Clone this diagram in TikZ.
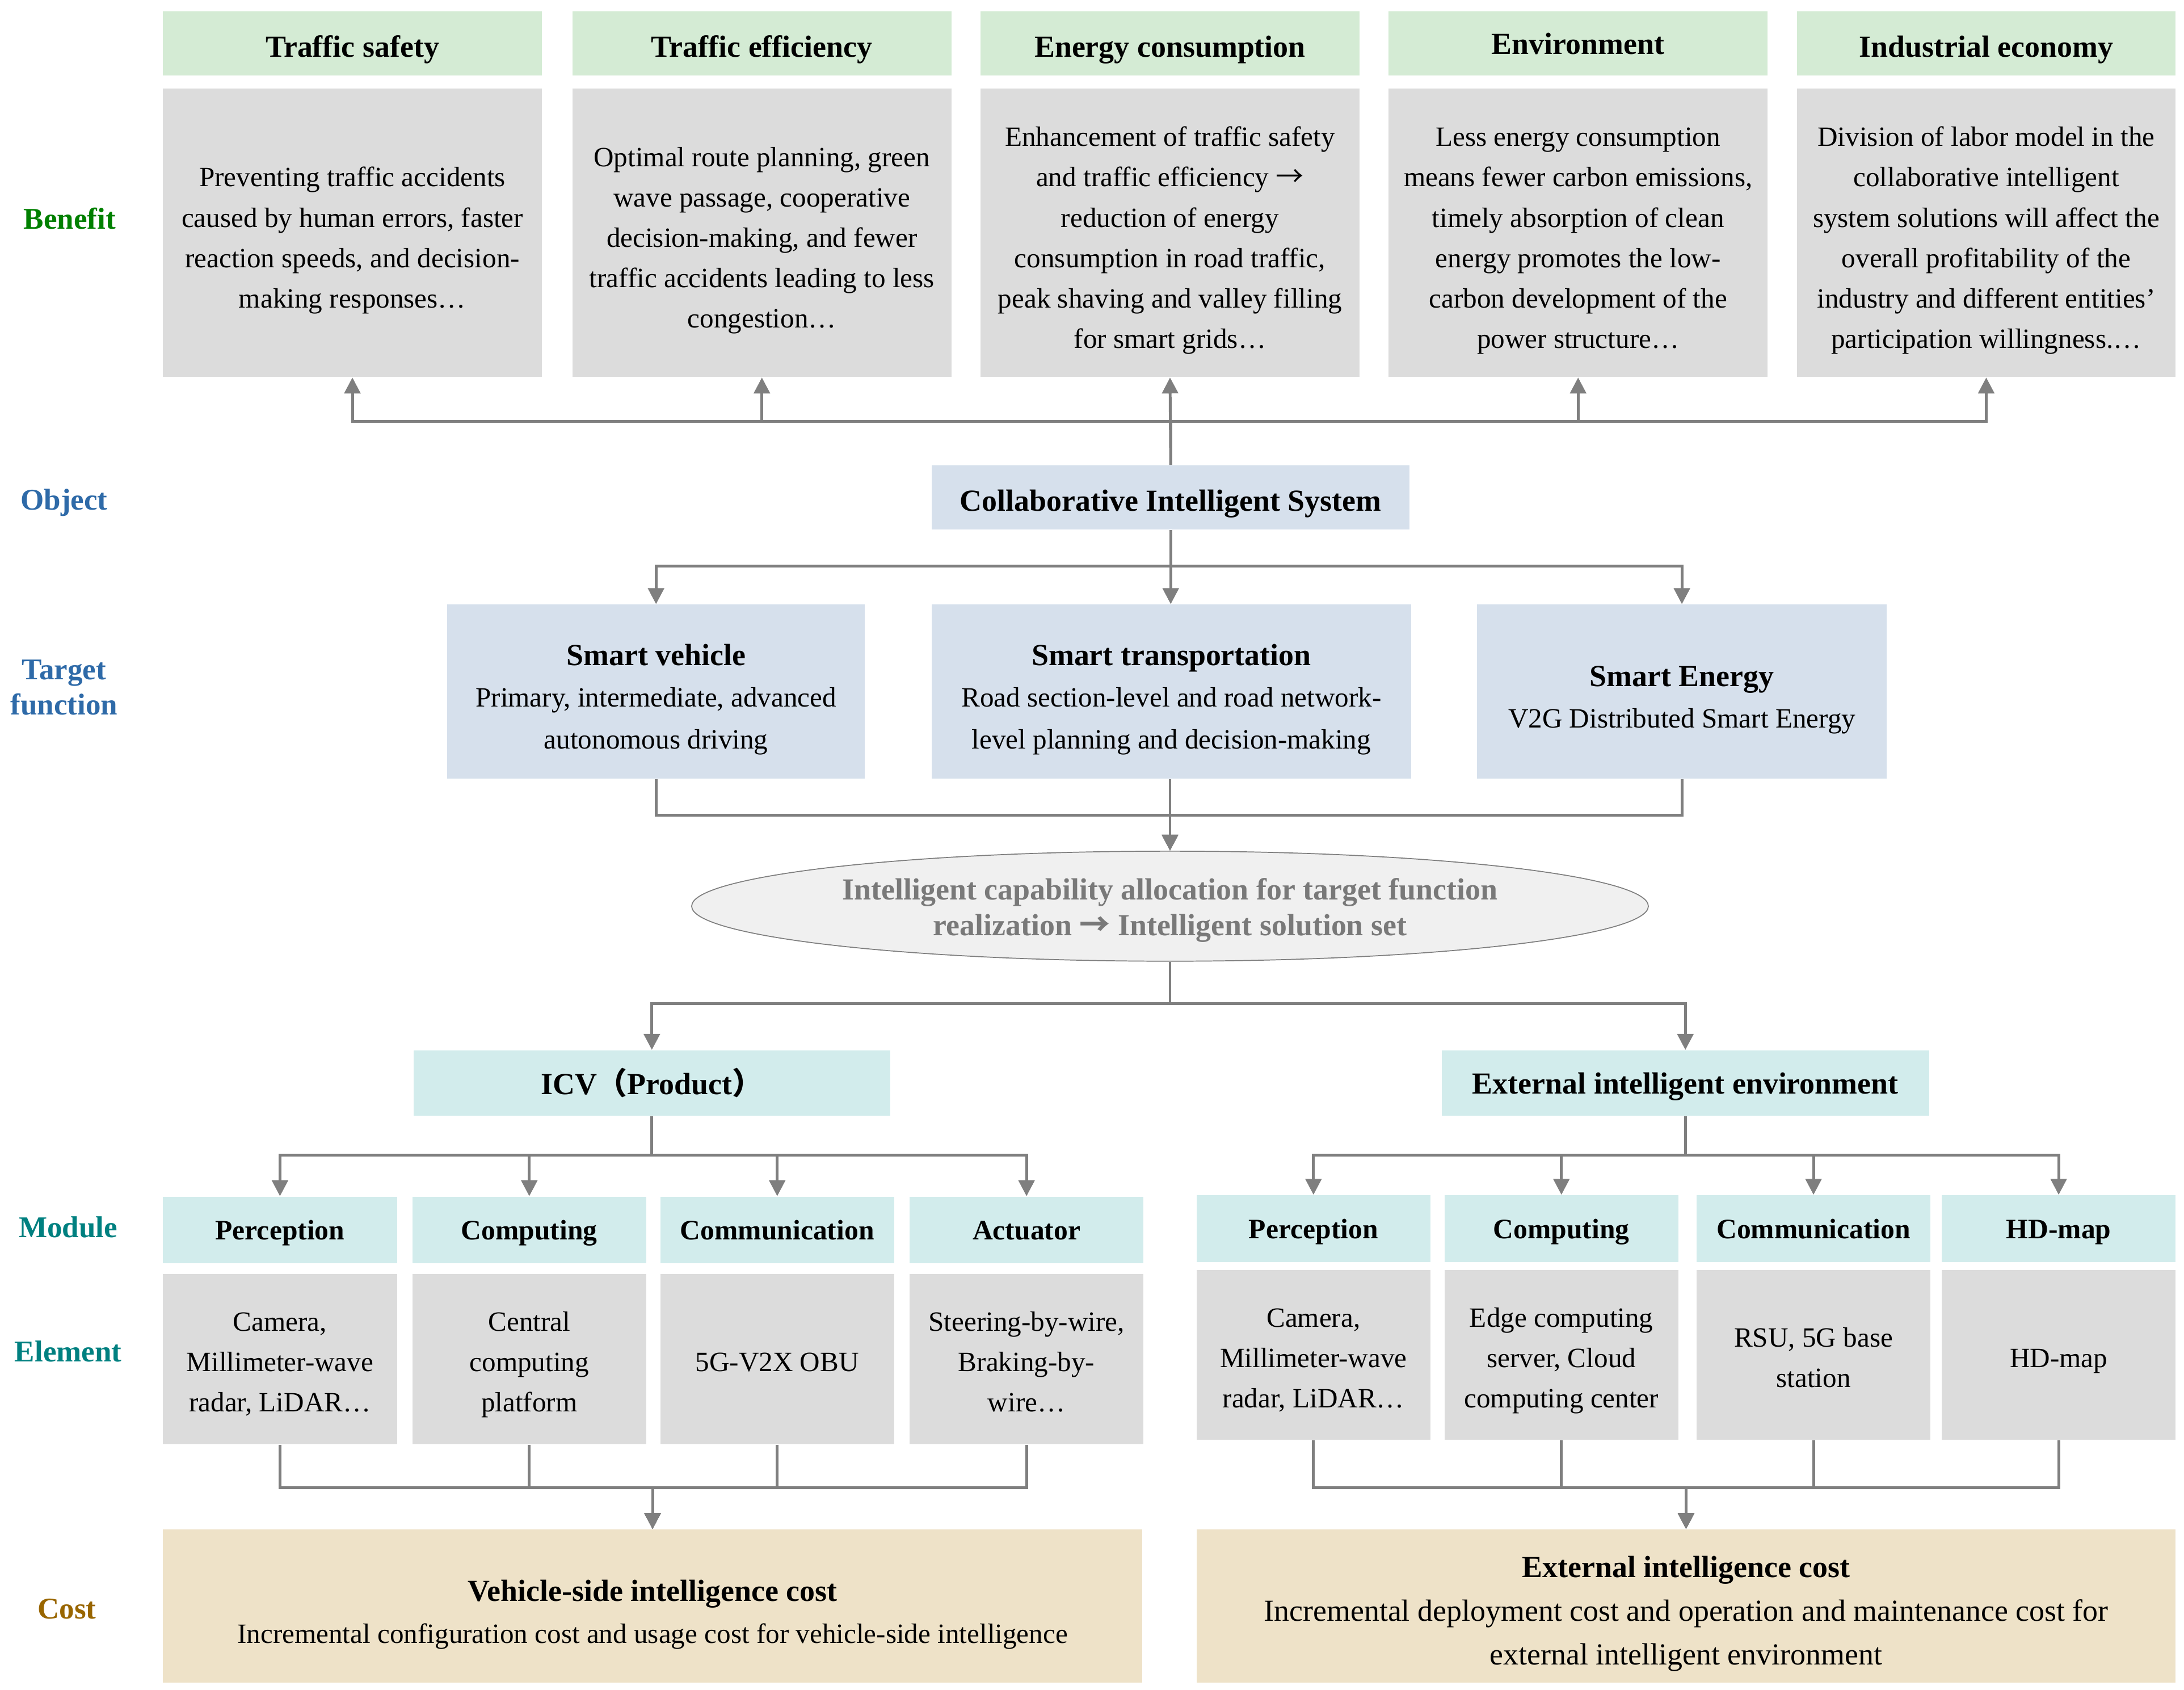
\documentclass[tikz,border=0pt]{standalone}
\usepackage{fontspec}
\setmainfont{Liberation Serif}
\newfontfamily\cjk{Noto Sans CJK SC}
\usepackage{xcolor}
\usepackage{tikz}
\usetikzlibrary{shapes.geometric,arrows.meta,positioning}
\definecolor{hdrgreen}{HTML}{D4EBD4}
\definecolor{boxgray}{HTML}{DCDCDC}
\definecolor{objblue}{HTML}{D6E0EC}
\definecolor{modteal}{HTML}{D2ECEC}
\definecolor{costtan}{HTML}{EEE2C8}
\definecolor{linegray}{HTML}{7F7F7F}
\definecolor{lblgreen}{HTML}{008000}
\definecolor{lblblue}{HTML}{2E6AA8}
\definecolor{lblteal}{HTML}{008080}
\definecolor{lblbrown}{HTML}{996600}
\newcommand\cistext[2][0.09cm]{\raisebox{-#1}[\height][\depth]{\begin{tabular}{@{}c@{}}#2\end{tabular}}}
\newcommand\cisbold[1]{\textbf{\fontsize{12.5}{17}\selectfont #1}}
\newcommand\cisto{{\cjk →}}
\tikzset{
  cisbase/.style={rectangle, inner sep=2pt, align=center, text=black},
  benhdr/.style={cisbase, fill=hdrgreen, minimum width=5.44cm, minimum height=0.92cm,
    font=\bfseries\fontsize{12.5}{15}\selectfont},
  bentxt/.style={cisbase, fill=boxgray, minimum width=5.44cm, minimum height=4.14cm,
    font=\fontsize{11.4}{16.5}\selectfont},
  objbox/.style={cisbase, fill=objblue, minimum height=0.92cm,
    font=\bfseries\fontsize{12.5}{15}\selectfont},
  tgtbox/.style={cisbase, fill=objblue, minimum height=2.5cm,
    font=\fontsize{11.4}{17}\selectfont},
  allocell/.style={ellipse, draw=linegray, fill=gray!12, inner sep=0pt,
    minimum width=13.74cm, minimum height=1.58cm, align=center, text=gray!95!black,
    font=\bfseries\fontsize{12.5}{14.8}\selectfont},
  grpbox/.style={cisbase, fill=modteal, minimum height=0.94cm,
    font=\bfseries\fontsize{12.5}{15}\selectfont},
  modhdr/.style={cisbase, fill=modteal, minimum width=3.36cm, minimum height=0.96cm,
    font=\bfseries\fontsize{11.5}{14}\selectfont},
  elemtxt/.style={cisbase, fill=boxgray, minimum width=3.36cm, minimum height=2.44cm,
    font=\fontsize{11.4}{16.5}\selectfont},
  costbox/.style={cisbase, fill=costtan, minimum width=14.06cm, minimum height=2.2cm,
    font=\fontsize{11.4}{17.2}\selectfont},
  rowlbl/.style={align=center, font=\bfseries\fontsize{12.3}{14.2}\selectfont},
  cislink/.style={draw=linegray, line width=1.15pt},
  cisarrow/.style={cislink, -{Triangle[length=6.5pt,width=6.5pt]}},
}
\begin{document}
\begin{tikzpicture}[x=0.02cm, y=-0.02cm]
  \fill[white] (0,0) rectangle (1568,1213);
  \useasboundingbox (0,0) rectangle (1568,1213);
  % row labels
  \node (lben) [rowlbl, text=lblgreen] at (50,157) {Benefit};
  \node (lobj) [rowlbl, text=lblblue] at (46,361) {Object};
  \node (ltgt) [rowlbl, text=lblblue] at (46,493.5) {Target\\function};
  \node (lmod) [rowlbl, text=lblteal] at (49,881) {Module};
  \node (lelm) [rowlbl, text=lblteal] at (49,970) {Element};
  \node (lcst) [rowlbl, text=lblbrown] at (48,1155) {Cost};
  % benefits
  \node (h1) [benhdr] at (253,31) {\cistext{Traffic safety}};
  \node (h2) [benhdr] at (547,31) {\cistext{Traffic efficiency}};
  \node (h3) [benhdr] at (840,31) {\cistext{Energy consumption}};
  \node (h4) [benhdr] at (1133,31) {\cistext[0.05cm]{Environment}};
  \node (h5) [benhdr] at (1426,31) {\cistext{Industrial economy}};
  \node (c1) [bentxt, below=0.18cm of h1] {\cistext{Preventing traffic accidents\\caused by human errors, faster\\reaction speeds, and decision-\\making responses…}};
  \node (c2) [bentxt, below=0.18cm of h2] {\cistext{Optimal route planning, green\\wave passage, cooperative\\decision-making, and fewer\\traffic accidents leading to less\\congestion…}};
  \node (c3) [bentxt, below=0.18cm of h3] {\cistext{Enhancement of traffic safety\\and traffic efficiency \cisto\\reduction of energy\\consumption in road traffic,\\peak shaving and valley filling\\for smart grids…}};
  \node (c4) [bentxt, below=0.18cm of h4] {\cistext{Less energy consumption\\means fewer carbon emissions,\\timely absorption of clean\\energy promotes the low-\\carbon development of the\\power structure…}};
  \node (c5) [bentxt, below=0.18cm of h5] {\cistext{Division of labor model in the\\collaborative intelligent\\system solutions will affect the\\overall profitability of the\\industry and different entities’\\participation willingness.…}};
  % object and target functions
  \node (cis) [objbox, minimum width=6.86cm] at (840.5,357) {\cistext{Collaborative Intelligent System}};
  \node (t1) [tgtbox, minimum width=6.0cm] at (471,496.5) {\cistext[0.1cm]{\cisbold{Smart vehicle}\\Primary, intermediate, advanced\\autonomous driving}};
  \node (t2) [tgtbox, minimum width=6.88cm] at (841,496.5) {\cistext[0.1cm]{\cisbold{Smart transportation}\\Road section-level and road network-\\level planning and decision-making}};
  \node (t3) [tgtbox, minimum width=5.88cm] at (1207.5,496.5) {\cistext[0.1cm]{\cisbold{Smart Energy}\\V2G Distributed Smart Energy}};
  \node (alloc) [allocell] at (840,650.5) {\cistext[0.06cm]{Intelligent capability allocation for target function\\realization \cisto\ Intelligent solution set}};
  % products and environment
  \node (icv) [grpbox, minimum width=6.84cm] at (468,777.5) {\cistext[0.05cm]{ICV{\cjk （}Product{\cjk ）}}};
  \node (ext) [grpbox, minimum width=7.0cm] at (1210,777.5) {\cistext[0.05cm]{External intelligent environment}};
  % vehicle modules
  \node (m1) [modhdr] at (201,883) {\cistext[0.04cm]{Perception}};
  \node (m2) [modhdr] at (380,883) {\cistext[0.04cm]{Computing}};
  \node (m3) [modhdr] at (558,883) {\cistext[0.04cm]{Communication}};
  \node (m4) [modhdr] at (737,883) {\cistext[0.04cm]{Actuator}};
  \node (e1) [elemtxt, below=0.14cm of m1] {\cistext[0.06cm]{Camera,\\Millimeter-wave\\radar, LiDAR…}};
  \node (e2) [elemtxt, below=0.14cm of m2] {\cistext[0.06cm]{Central\\computing\\platform}};
  \node (e3) [elemtxt, below=0.14cm of m3] {\cistext[0.06cm]{5G-V2X OBU}};
  \node (e4) [elemtxt, below=0.14cm of m4] {\cistext[0.06cm]{Steering-by-wire,\\Braking-by-\\wire…}};
  % environment modules
  \node (m5) [modhdr] at (943,882) {\cistext[0.04cm]{Perception}};
  \node (m6) [modhdr] at (1121,882) {\cistext[0.04cm]{Computing}};
  \node (m7) [modhdr] at (1302,882) {\cistext[0.04cm]{Communication}};
  \node (m8) [modhdr] at (1478,882) {\cistext[0.04cm]{HD-map}};
  \node (e5) [elemtxt, below=0.1cm of m5] {\cistext[0.06cm]{Camera,\\Millimeter-wave\\radar, LiDAR…}};
  \node (e6) [elemtxt, below=0.1cm of m6] {\cistext[0.06cm]{Edge computing\\server, Cloud\\computing center}};
  \node (e7) [elemtxt, below=0.1cm of m7] {\cistext[0.06cm]{RSU, 5G base\\station}};
  \node (e8) [elemtxt, below=0.1cm of m8] {\cistext[0.06cm]{HD-map}};
  % costs
  \node (vcost) [costbox] at (468.5,1153) {\cistext[0.11cm]{\cisbold{Vehicle-side intelligence cost}\\Incremental configuration cost and usage cost for vehicle-side intelligence}};
  \node (xcost) [costbox, font=\fontsize{12.5}{17.8}\selectfont] at (1210.5,1153) {\cistext[0.09cm]{\cisbold{External intelligence cost}\\Incremental deployment cost and operation and maintenance cost for\\external intelligent environment}};
  % connectors
  \draw[cisarrow] (cis.north) -- (c3.south);
  \draw[cisarrow] (cis.north) -- ++(0,-31) -| (c1.south); \draw[cisarrow] (cis.north) -- ++(0,-31) -| (c2.south);
  \draw[cisarrow] (cis.north) -- ++(0,-31) -| (c4.south); \draw[cisarrow] (cis.north) -- ++(0,-31) -| (c5.south);
  \draw[cisarrow] (cis.south) -- ++(0,26) -| (t1.north); \draw[cisarrow] (cis.south) -- (cis.south |- t2.north);
  \draw[cisarrow] (cis.south) -- ++(0,26) -| (t3.north);
  \draw[cisarrow] (t1.south) -- ++(0,26) -| (alloc.north); \draw[cisarrow] (t3.south) -- ++(0,26) -| (alloc.north);
  \draw[cisarrow] (t2.south -| alloc.north) -- (alloc.north);
  \draw[cisarrow] (alloc.south) -- ++(0,30) -| (icv.north); \draw[cisarrow] (alloc.south) -- ++(0,30) -| (ext.north);
  \draw[cisarrow] (icv.south) -- ++(0,28) -| (m1.north); \draw[cisarrow] (icv.south) -- ++(0,28) -| (m2.north);
  \draw[cisarrow] (icv.south) -- ++(0,28) -| (m3.north); \draw[cisarrow] (icv.south) -- ++(0,28) -| (m4.north);
  \draw[cisarrow] (ext.south) -- ++(0,28) -| (m5.north); \draw[cisarrow] (ext.south) -- ++(0,28) -| (m6.north);
  \draw[cisarrow] (ext.south) -- ++(0,28) -| (m7.north); \draw[cisarrow] (ext.south) -- ++(0,28) -| (m8.north);
  \draw[cisarrow] (e1.south) -- ++(0,31) -| (vcost.north); \draw[cisarrow] (e2.south) -- ++(0,31) -| (vcost.north);
  \draw[cisarrow] (e3.south) -- ++(0,31) -| (vcost.north); \draw[cisarrow] (e4.south) -- ++(0,31) -| (vcost.north);
  \draw[cisarrow] (e5.south) -- ++(0,34) -| (xcost.north); \draw[cisarrow] (e6.south) -- ++(0,34) -| (xcost.north);
  \draw[cisarrow] (e7.south) -- ++(0,34) -| (xcost.north); \draw[cisarrow] (e8.south) -- ++(0,34) -| (xcost.north);
\end{tikzpicture}
\end{document}
